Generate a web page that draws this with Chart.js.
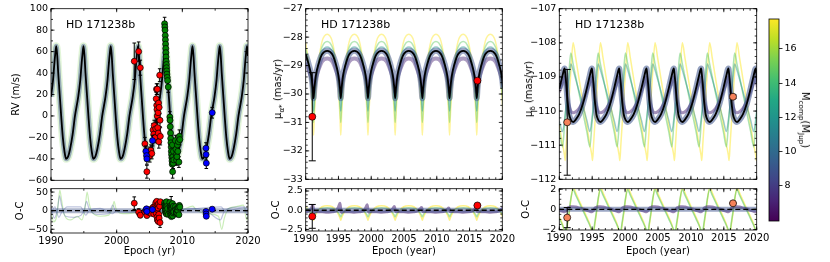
<!DOCTYPE html>
<html>
<head>
<meta charset="utf-8">
<title>HD 171238b orbit fit</title>
<script src="https://cdn.jsdelivr.net/npm/chart.js"></script>
<style>
  html, body { margin: 0; padding: 0; background: #fff; }
  #fig { position: relative; width: 830px; height: 262px; overflow: hidden;
         font-family: 'DejaVu Sans', sans-serif; color: #000; }
  #fig canvas { position: absolute; }
  .txt { position: absolute; white-space: nowrap; line-height: 1; }
  .up { transform: translate(-50%, -50%) rotate(-90deg); }
  .down { transform: translate(-50%, -50%) rotate(90deg); }
  .txt sub { font-size: 72%; vertical-align: -0.35em; line-height: 0; }
</style>
</head>
<body>
<div id="fig">
  <canvas id="rvTop" width="264" height="189" style="left:0;top:0"></canvas>
  <canvas id="rvOc" width="264" height="82" style="left:0;top:180px"></canvas>
  <canvas id="raTop" width="256" height="188" style="left:262px;top:0"></canvas>
  <canvas id="raOc" width="256" height="82" style="left:262px;top:180px"></canvas>
  <canvas id="decTop" width="256" height="188" style="left:516px;top:0"></canvas>
  <canvas id="decOc" width="256" height="82" style="left:516px;top:180px"></canvas>
  <canvas id="cbar" width="60" height="230" style="left:760px;top:0"></canvas>

  <div class="txt" style="left:66px;top:19px;font-size:11px">HD 171238b</div>
  <div class="txt" style="left:321px;top:19px;font-size:11px">HD 171238b</div>
  <div class="txt" style="left:575px;top:19px;font-size:11px">HD 171238b</div>
  <div class="txt up" style="left:278px;top:89px;font-size:10px">μ<sub>α*</sub> (mas/yr)</div>
  <div class="txt up" style="left:529px;top:89px;font-size:10px">μ<sub>δ</sub> (mas/yr)</div>
  <div class="txt down" style="left:805px;top:120px;font-size:10px">M<sub>comp</sub>(M<sub>Jup</sub>)</div>
</div>

<script>
// ---------- data ----------

// RV panel: best-fit orbit (epoch, m/s)
const rvModelT = [
  1990.0, 1990.3, 1990.5, 1990.65,
  1990.8, 1990.95, 1991.1, 1991.37, 1991.55, 1991.8, 1992.05, 1992.3, 1992.6, 1992.9, 1993.3, 1993.65, 1994.15, 1994.45, 1994.65, 1994.8,
  1994.95, 1995.1, 1995.25, 1995.52, 1995.7, 1995.95, 1996.2, 1996.45, 1996.75, 1997.05, 1997.45, 1997.8, 1998.3, 1998.6, 1998.8, 1998.95,
  1999.1, 1999.25, 1999.4, 1999.67, 1999.85, 2000.1, 2000.35, 2000.6, 2000.9, 2001.2, 2001.6, 2001.95, 2002.45, 2002.75, 2002.95, 2003.1,
  2003.25, 2003.4, 2003.55, 2003.82, 2004.0, 2004.25, 2004.5, 2004.75, 2005.05, 2005.35, 2005.75, 2006.1, 2006.6, 2006.9, 2007.1, 2007.25,
  2007.4, 2007.55, 2007.7, 2007.97, 2008.15, 2008.4, 2008.65, 2008.9, 2009.2, 2009.5, 2009.9, 2010.25, 2010.75, 2011.05, 2011.25, 2011.4,
  2011.55, 2011.7, 2011.85, 2012.12, 2012.3, 2012.55, 2012.8, 2013.05, 2013.35, 2013.65, 2014.05, 2014.4, 2014.9, 2015.2, 2015.4, 2015.55,
  2015.7, 2015.85, 2016.0, 2016.27, 2016.45, 2016.7, 2016.95, 2017.2, 2017.5, 2017.8, 2018.2, 2018.55, 2019.05, 2019.35, 2019.55, 2019.7,
  2019.85, 2020.0
];
const rvModelV = [
  18, 33, 48, 58,
  65, 56, 40, 16, 0, -20, -33, -40, -38, -31, -17, 0, 18, 33, 48, 58,
  65, 56, 40, 16, 0, -20, -33, -40, -38, -31, -17, 0, 18, 33, 48, 58,
  65, 56, 40, 16, 0, -20, -33, -40, -38, -31, -17, 0, 18, 33, 48, 58,
  65, 56, 40, 16, 0, -20, -33, -40, -38, -31, -17, 0, 18, 33, 48, 58,
  65, 56, 40, 16, 0, -20, -33, -40, -38, -31, -17, 0, 18, 33, 48, 58,
  65, 56, 40, 16, 0, -20, -33, -40, -38, -31, -17, 0, 18, 33, 48, 58,
  65, 56, 40, 16, 0, -20, -33, -40, -38, -31, -17, 0, 18, 33, 48, 58,
  65, 56
];

// RV measurements [epoch, RV, error]
const rvRed = [
  [2002.68, 51, 17], [2003.35, 60, 9], [2003.6, 45, 7], [2004.3, -26, 6], [2004.6, -52, 6],
  [2004.95, -34, 5], [2005.05, -37, 6], [2005.2, -32, 5], [2005.35, -35, 5], [2005.55, -13, 6],
  [2005.65, -17, 5], [2005.72, -9, 5], [2005.85, -20, 5], [2005.95, -12, 5], [2006.02, 16, 6],
  [2006.07, 25, 5], [2006.1, 10, 5], [2006.14, 6, 5], [2006.18, 0, 6], [2006.2, 25, 5],
  [2006.25, -11, 5], [2006.3, 3, 5], [2006.33, -16, 5], [2006.38, 12, 5], [2006.42, -24, 6],
  [2006.47, 8, 5], [2006.55, 38, 6], [2006.6, -4, 6], [2006.65, -19, 8]
];
const rvBlue = [
  [2004.45, -33, 5], [2004.55, -37, 5], [2004.6, -40, 5], [2005.45, -23, 5],
  [2013.6, -30, 5], [2013.62, -36, 5], [2013.65, -44, 5], [2014.55, 3, 5]
];
const rvGreen = [
  [2007.3, 86, 6], [2007.33, 83, 5], [2007.36, 80, 5], [2007.4, 75, 5], [2007.42, 71, 5], [2007.45, 67, 5],
  [2007.48, 63, 5], [2007.5, 59, 5], [2007.52, 55, 5], [2007.55, 51, 5], [2007.58, 48, 5], [2007.6, 45, 5],
  [2007.62, 42, 5], [2007.65, 39, 5], [2007.7, 36, 5], [2007.75, 33, 5], [2007.86, 27, 5],
  [2008.1, -1, 5], [2008.13, -4, 5], [2008.16, -10, 6], [2008.2, -16, 5], [2008.23, -21, 5], [2008.26, -25, 5],
  [2008.3, -29, 5], [2008.33, -33, 5], [2008.36, -36, 5], [2008.4, -39, 5], [2008.43, -42, 5], [2008.46, -45, 5],
  [2008.5, -27, 5], [2008.52, -52, 6], [2008.56, -38, 5], [2008.6, -44, 5], [2008.65, -33, 5], [2008.7, -41, 5],
  [2008.95, -23, 5], [2009.02, -31, 5], [2009.08, -36, 5], [2009.12, -41, 5], [2009.18, -38, 5], [2009.25, -27, 5],
  [2009.32, -33, 5], [2009.4, -24, 5], [2009.48, -43, 5], [2009.55, -19, 6], [2009.62, -22, 5]
];

// RV residuals [epoch, O-C, error]
const rvOcRed = [
  [2002.68, 20, 17], [2003.35, -4, 9], [2003.6, -12, 7], [2004.3, -3, 6], [2004.6, -13, 6],
  [2004.95, -5, 5], [2005.05, 1, 6], [2005.2, -7, 5], [2005.35, 5, 5], [2005.55, 9, 6],
  [2005.65, -9, 5], [2005.72, 3, 5], [2005.85, 13, 5], [2005.95, 21, 5], [2006.02, -7, 6],
  [2006.07, 9, 5], [2006.1, 25, 5], [2006.14, -17, 5], [2006.18, 3, 6], [2006.2, -25, 5],
  [2006.25, 15, 5], [2006.3, 7, 5], [2006.33, -29, 5], [2006.38, 18, 5], [2006.42, -10, 6],
  [2006.47, -20, 5], [2006.55, 12, 6], [2006.6, -32, 13], [2006.65, 24, 6]
];
const rvOcBlue = [
  [2004.45, 2, 5], [2004.55, 5, 5], [2004.6, -2, 5], [2005.45, 3, 5],
  [2013.6, -2, 5], [2013.62, -9, 5], [2013.65, -15, 5], [2014.55, 4, 5]
];
const rvOcGreen = [
  [2007.3, 21, 6], [2007.33, 15, 5], [2007.36, 9, 5], [2007.4, 4, 5], [2007.42, -3, 5], [2007.45, 8, 5],
  [2007.48, 14, 5], [2007.5, -6, 5], [2007.52, 2, 5], [2007.55, 18, 5], [2007.58, -9, 5], [2007.6, 24, 5],
  [2007.65, 11, 5], [2007.7, -4, 5], [2007.75, 6, 5], [2007.86, -10, 5],
  [2008.1, 22, 5], [2008.13, 12, 5], [2008.16, -5, 6], [2008.2, 7, 5], [2008.23, -12, 5], [2008.26, 2, 5],
  [2008.3, 10, 28], [2008.33, -16, 5], [2008.36, 4, 5], [2008.4, -8, 5], [2008.43, 16, 5], [2008.46, -2, 5],
  [2008.5, 19, 5], [2008.52, -14, 6], [2008.56, 6, 5], [2008.6, -6, 5], [2008.65, 12, 5], [2008.7, -3, 5],
  [2008.95, 11, 5], [2009.02, 3, 5], [2009.08, -4, 5], [2009.12, -9, 5], [2009.18, -6, 5], [2009.25, 6, 5],
  [2009.32, 0, 5], [2009.4, 9, 5], [2009.48, -11, 5], [2009.55, 14, 6], [2009.62, 10, 5]
];

// RV residual spread of other posterior orbits
const rvOcGreenT = [1990.0, 1990.4, 1990.8, 1991.1, 1991.35, 1991.6, 1992.0, 1993.0, 1994.0, 1994.7, 1995.2, 1995.5, 1995.8,
  1996.3, 1997.5, 1998.8, 1999.4, 1999.6, 1999.9, 2001.0, 2003.0, 2003.5, 2004.0, 2006.0, 2008.0, 2010.0, 2011.6,
  2012.1, 2014.0, 2015.5, 2016.0, 2016.4, 2017.0, 2018.0, 2019.3, 2019.8, 2020.0];
const rvOcGreenV = [-5, -30, -20, 20, 55, 30, -10, -25, -15, -25, 10, 50, 20,
  -5, -15, -12, 10, 25, 5, -8, -4, 6, 0, -3, 0, 3, 12,
  2, -8, -15, -50, -20, 5, 10, 15, -25, -10];
const rvOcBlueAT = [1990.0, 1990.5, 1991.0, 1991.3, 1991.6, 1992.2, 1993.5, 1994.6, 1995.1, 1995.4, 1995.8, 1997.0, 1998.8,
  1999.4, 1999.8, 2002.0, 2008.0, 2011.6, 2014.0, 2015.8, 2016.3, 2017.5, 2019.5, 2019.9, 2020.0];
const rvOcBlueAV = [10, -20, 5, 40, 15, -15, -18, -12, 5, 25, 5, -10, -8,
  15, 0, -4, 0, 6, -5, -25, -5, 8, 10, -15, -5];
const rvOcBlueBT = [1990.0, 1990.6, 1991.2, 1991.6, 1992.5, 1994.5, 1995.3, 1995.8, 1997.5, 1999.4, 2000.0, 2008.0,
  2015.9, 2016.5, 2019.8, 2020.0];
const rvOcBlueBV = [-8, 10, -18, -5, 10, 10, -12, 0, 6, -8, 0, 0, 10, 0, 8, 0];

// zero line of the residual panels
const ocZeroT = [1990, 2020];
const ocZeroV = [0, 0];

// proper motion in RA (mas/yr)
const raT = [
  1990.0, 1990.45, 1990.85, 1991.08,
  1991.2, 1991.32, 1991.55, 1991.95, 1992.5, 1993.28, 1994.05, 1994.6, 1995.0, 1995.23,
  1995.35, 1995.47, 1995.7, 1996.1, 1996.65, 1997.43, 1998.2, 1998.75, 1999.15, 1999.38,
  1999.5, 1999.62, 1999.85, 2000.25, 2000.8, 2001.58, 2002.35, 2002.9, 2003.3, 2003.53,
  2003.65, 2003.77, 2004.0, 2004.4, 2004.95, 2005.73, 2006.5, 2007.05, 2007.45, 2007.68,
  2007.8, 2007.92, 2008.15, 2008.55, 2009.1, 2009.88, 2010.65, 2011.2, 2011.6, 2011.83,
  2011.95, 2012.07, 2012.3, 2012.7, 2013.25, 2014.03, 2014.8, 2015.35, 2015.75, 2015.98,
  2016.1, 2016.22, 2016.45, 2016.85, 2017.4, 2018.18, 2018.95, 2019.5, 2019.9, 2020.13,
  2020.25
];
const raBest = [
  -28.6, -28.95, -29.35, -29.8,
  -30.15, -29.8, -29.35, -28.95, -28.6, -28.48, -28.6, -28.95, -29.35, -29.8,
  -30.15, -29.8, -29.35, -28.95, -28.6, -28.48, -28.6, -28.95, -29.35, -29.8,
  -30.15, -29.8, -29.35, -28.95, -28.6, -28.48, -28.6, -28.95, -29.35, -29.8,
  -30.15, -29.8, -29.35, -28.95, -28.6, -28.48, -28.6, -28.95, -29.35, -29.8,
  -30.15, -29.8, -29.35, -28.95, -28.6, -28.48, -28.6, -28.95, -29.35, -29.8,
  -30.15, -29.8, -29.35, -28.95, -28.6, -28.48, -28.6, -28.95, -29.35, -29.8,
  -30.15, -29.8, -29.35, -28.95, -28.6, -28.48, -28.6, -28.95, -29.35, -29.8,
  -30.15
];
const raHeavy = [
  -28.2, -28.9, -29.9, -30.8,
  -31.45, -30.8, -29.9, -28.9, -28.15, -27.9, -28.15, -28.9, -29.9, -30.8,
  -31.45, -30.8, -29.9, -28.9, -28.15, -27.9, -28.15, -28.9, -29.9, -30.8,
  -31.45, -30.8, -29.9, -28.9, -28.15, -27.9, -28.15, -28.9, -29.9, -30.8,
  -31.45, -30.8, -29.9, -28.9, -28.15, -27.9, -28.15, -28.9, -29.9, -30.8,
  -31.45, -30.8, -29.9, -28.9, -28.15, -27.9, -28.15, -28.9, -29.9, -30.8,
  -31.45, -30.8, -29.9, -28.9, -28.15, -27.9, -28.15, -28.9, -29.9, -30.8,
  -31.45, -30.8, -29.9, -28.9, -28.15, -27.9, -28.15, -28.9, -29.9, -30.8,
  -31.45
];
const raMid = [
  -28.4, -28.9, -29.7, -30.45,
  -31.0, -30.45, -29.7, -28.9, -28.35, -28.15, -28.35, -28.9, -29.7, -30.45,
  -31.0, -30.45, -29.7, -28.9, -28.35, -28.15, -28.35, -28.9, -29.7, -30.45,
  -31.0, -30.45, -29.7, -28.9, -28.35, -28.15, -28.35, -28.9, -29.7, -30.45,
  -31.0, -30.45, -29.7, -28.9, -28.35, -28.15, -28.35, -28.9, -29.7, -30.45,
  -31.0, -30.45, -29.7, -28.9, -28.35, -28.15, -28.35, -28.9, -29.7, -30.45,
  -31.0, -30.45, -29.7, -28.9, -28.35, -28.15, -28.35, -28.9, -29.7, -30.45,
  -31.0, -30.45, -29.7, -28.9, -28.35, -28.15, -28.35, -28.9, -29.7, -30.45,
  -31.0
];
const raTeal = [
  -28.55, -28.95, -29.55, -30.15,
  -30.6, -30.15, -29.55, -28.95, -28.5, -28.35, -28.5, -28.95, -29.55, -30.15,
  -30.6, -30.15, -29.55, -28.95, -28.5, -28.35, -28.5, -28.95, -29.55, -30.15,
  -30.6, -30.15, -29.55, -28.95, -28.5, -28.35, -28.5, -28.95, -29.55, -30.15,
  -30.6, -30.15, -29.55, -28.95, -28.5, -28.35, -28.5, -28.95, -29.55, -30.15,
  -30.6, -30.15, -29.55, -28.95, -28.5, -28.35, -28.5, -28.95, -29.55, -30.15,
  -30.6, -30.15, -29.55, -28.95, -28.5, -28.35, -28.5, -28.95, -29.55, -30.15,
  -30.6, -30.15, -29.55, -28.95, -28.5, -28.35, -28.5, -28.95, -29.55, -30.15,
  -30.6
];
const raLight = [
  -28.9, -29.15, -29.45, -29.75,
  -29.95, -29.75, -29.45, -29.15, -28.85, -28.75, -28.85, -29.15, -29.45, -29.75,
  -29.95, -29.75, -29.45, -29.15, -28.85, -28.75, -28.85, -29.15, -29.45, -29.75,
  -29.95, -29.75, -29.45, -29.15, -28.85, -28.75, -28.85, -29.15, -29.45, -29.75,
  -29.95, -29.75, -29.45, -29.15, -28.85, -28.75, -28.85, -29.15, -29.45, -29.75,
  -29.95, -29.75, -29.45, -29.15, -28.85, -28.75, -28.85, -29.15, -29.45, -29.75,
  -29.95, -29.75, -29.45, -29.15, -28.85, -28.75, -28.85, -29.15, -29.45, -29.75,
  -29.95, -29.75, -29.45, -29.15, -28.85, -28.75, -28.85, -29.15, -29.45, -29.75,
  -29.95
];
const raOcHeavy = [
  0.4, 0.05, -0.55, -1.0,
  -1.3, -1.0, -0.55, 0.05, 0.45, 0.58, 0.45, 0.05, -0.55, -1.0,
  -1.3, -1.0, -0.55, 0.05, 0.45, 0.58, 0.45, 0.05, -0.55, -1.0,
  -1.3, -1.0, -0.55, 0.05, 0.45, 0.58, 0.45, 0.05, -0.55, -1.0,
  -1.3, -1.0, -0.55, 0.05, 0.45, 0.58, 0.45, 0.05, -0.55, -1.0,
  -1.3, -1.0, -0.55, 0.05, 0.45, 0.58, 0.45, 0.05, -0.55, -1.0,
  -1.3, -1.0, -0.55, 0.05, 0.45, 0.58, 0.45, 0.05, -0.55, -1.0,
  -1.3, -1.0, -0.55, 0.05, 0.45, 0.58, 0.45, 0.05, -0.55, -1.0,
  -1.3
];
const raOcMid = [
  0.22, 0.05, -0.35, -0.65,
  -0.85, -0.65, -0.35, 0.05, 0.25, 0.33, 0.25, 0.05, -0.35, -0.65,
  -0.85, -0.65, -0.35, 0.05, 0.25, 0.33, 0.25, 0.05, -0.35, -0.65,
  -0.85, -0.65, -0.35, 0.05, 0.25, 0.33, 0.25, 0.05, -0.35, -0.65,
  -0.85, -0.65, -0.35, 0.05, 0.25, 0.33, 0.25, 0.05, -0.35, -0.65,
  -0.85, -0.65, -0.35, 0.05, 0.25, 0.33, 0.25, 0.05, -0.35, -0.65,
  -0.85, -0.65, -0.35, 0.05, 0.25, 0.33, 0.25, 0.05, -0.35, -0.65,
  -0.85, -0.65, -0.35, 0.05, 0.25, 0.33, 0.25, 0.05, -0.35, -0.65,
  -0.85
];
const raOcLight = [
  -0.2, -0.1, 0.25, 0.6,
  0.1, -0.3, -0.2, -0.2, -0.2, -0.27, -0.2, -0.1, 0.4, 0.9,
  0.1, -0.3, -0.2, -0.2, -0.2, -0.27, -0.2, -0.1, 0.3, 0.7,
  0.1, -0.25, -0.2, -0.2, -0.2, -0.25, -0.2, -0.1, 0.2, 0.5,
  0.05, -0.2, -0.15, -0.2, -0.2, -0.25, -0.2, -0.1, 0.15, 0.35,
  0.05, -0.2, -0.15, -0.2, -0.2, -0.25, -0.2, -0.1, 0.1, 0.3,
  0.05, -0.2, -0.15, -0.2, -0.2, -0.25, -0.2, -0.1, 0.1, 0.3,
  0.05, -0.2, -0.15, -0.2, -0.2, -0.25, -0.2, -0.1, 0.15, 0.35,
  0.05
];
const raObs = [[1991.0, -30.8, 1.55], [2016.2, -29.53, 0.05]];
const raOcObs = [[1991.0, -0.8, 1.55], [2016.2, 0.62, 0.05]];

// proper motion in Dec (mas/yr)
const decT = [
  1990.0, 1990.5,
  1990.8, 1990.9, 1991.05, 1991.25, 1991.5, 1991.75, 1992.1, 1992.5, 1993.0, 1993.6, 1994.2, 1994.65,
  1994.95, 1995.05, 1995.2, 1995.4, 1995.65, 1995.9, 1996.25, 1996.65, 1997.15, 1997.75, 1998.35, 1998.8,
  1999.1, 1999.2, 1999.35, 1999.55, 1999.8, 2000.05, 2000.4, 2000.8, 2001.3, 2001.9, 2002.5, 2002.95,
  2003.25, 2003.35, 2003.5, 2003.7, 2003.95, 2004.2, 2004.55, 2004.95, 2005.45, 2006.05, 2006.65, 2007.1,
  2007.4, 2007.5, 2007.65, 2007.85, 2008.1, 2008.35, 2008.7, 2009.1, 2009.6, 2010.2, 2010.8, 2011.25,
  2011.55, 2011.65, 2011.8, 2012.0, 2012.25, 2012.5, 2012.85, 2013.25, 2013.75, 2014.35, 2014.95, 2015.4,
  2015.7, 2015.8, 2015.95, 2016.15, 2016.4, 2016.65, 2017.0, 2017.4, 2017.9, 2018.5, 2019.1, 2019.55,
  2019.85, 2019.95, 2020.1
];
const decBest = [
  -109.35, -108.95,
  -108.75, -108.9, -109.2, -109.7, -110.1, -110.25, -110.32, -110.25, -110.1, -109.78, -109.32, -108.95,
  -108.75, -108.9, -109.2, -109.7, -110.1, -110.25, -110.32, -110.25, -110.1, -109.78, -109.32, -108.95,
  -108.75, -108.9, -109.2, -109.7, -110.1, -110.25, -110.32, -110.25, -110.1, -109.78, -109.32, -108.95,
  -108.75, -108.9, -109.2, -109.7, -110.1, -110.25, -110.32, -110.25, -110.1, -109.78, -109.32, -108.95,
  -108.75, -108.9, -109.2, -109.7, -110.1, -110.25, -110.32, -110.25, -110.1, -109.78, -109.32, -108.95,
  -108.75, -108.9, -109.2, -109.7, -110.1, -110.25, -110.32, -110.25, -110.1, -109.78, -109.32, -108.95,
  -108.75, -108.9, -109.2, -109.7, -110.1, -110.25, -110.32, -110.25, -110.1, -109.78, -109.32, -108.95,
  -108.75, -108.9, -109.2
];
const decHeavy = [
  -110.4, -110.98,
  -111.3, -111.45, -111.0, -110.4, -109.6, -108.85, -108.0, -108.45, -109.05, -109.75, -110.45, -110.98,
  -111.3, -111.45, -111.0, -110.4, -109.6, -108.85, -108.0, -108.45, -109.05, -109.75, -110.45, -110.98,
  -111.3, -111.45, -111.0, -110.4, -109.6, -108.85, -108.0, -108.45, -109.05, -109.75, -110.45, -110.98,
  -111.3, -111.45, -111.0, -110.4, -109.6, -108.85, -108.0, -108.45, -109.05, -109.75, -110.45, -110.98,
  -111.3, -111.45, -111.0, -110.4, -109.6, -108.85, -108.0, -108.45, -109.05, -109.75, -110.45, -110.98,
  -111.3, -111.45, -111.0, -110.4, -109.6, -108.85, -108.0, -108.45, -109.05, -109.75, -110.45, -110.98,
  -111.3, -111.45, -111.0, -110.4, -109.6, -108.85, -108.0, -108.45, -109.05, -109.75, -110.45, -110.98,
  -111.3, -111.45, -111.0
];
const decMid = [
  -110.6, -111.05,
  -110.4, -110.17, -109.82, -109.35, -108.77, -108.3, -108.62, -109.0, -109.48, -110.05, -110.62, -111.05,
  -110.4, -110.17, -109.82, -109.35, -108.77, -108.3, -108.62, -109.0, -109.48, -110.05, -110.62, -111.05,
  -110.4, -110.17, -109.82, -109.35, -108.77, -108.3, -108.62, -109.0, -109.48, -110.05, -110.62, -111.05,
  -110.4, -110.17, -109.82, -109.35, -108.77, -108.3, -108.62, -109.0, -109.48, -110.05, -110.62, -111.05,
  -110.4, -110.17, -109.82, -109.35, -108.77, -108.3, -108.62, -109.0, -109.48, -110.05, -110.62, -111.05,
  -110.4, -110.17, -109.82, -109.35, -108.77, -108.3, -108.62, -109.0, -109.48, -110.05, -110.62, -111.05,
  -110.4, -110.17, -109.82, -109.35, -108.77, -108.3, -108.62, -109.0, -109.48, -110.05, -110.62, -111.05,
  -110.4, -110.17, -109.82
];
const decTeal = [
  -110.3, -110.6,
  -110.25, -110.08, -109.82, -109.48, -109.05, -108.62, -108.8, -109.07, -109.42, -109.85, -110.28, -110.6,
  -110.25, -110.08, -109.82, -109.48, -109.05, -108.62, -108.8, -109.07, -109.42, -109.85, -110.28, -110.6,
  -110.25, -110.08, -109.82, -109.48, -109.05, -108.62, -108.8, -109.07, -109.42, -109.85, -110.28, -110.6,
  -110.25, -110.08, -109.82, -109.48, -109.05, -108.62, -108.8, -109.07, -109.42, -109.85, -110.28, -110.6,
  -110.25, -110.08, -109.82, -109.48, -109.05, -108.62, -108.8, -109.07, -109.42, -109.85, -110.28, -110.6,
  -110.25, -110.08, -109.82, -109.48, -109.05, -108.62, -108.8, -109.07, -109.42, -109.85, -110.28, -110.6,
  -110.25, -110.08, -109.82, -109.48, -109.05, -108.62, -108.8, -109.07, -109.42, -109.85, -110.28, -110.6,
  -110.25, -110.08, -109.82
];
const decLight = [
  -109.45, -109.15,
  -109.0, -109.1, -109.3, -109.6, -109.85, -110.0, -110.05, -110.02, -109.92, -109.72, -109.42, -109.15,
  -109.0, -109.1, -109.3, -109.6, -109.85, -110.0, -110.05, -110.02, -109.92, -109.72, -109.42, -109.15,
  -109.0, -109.1, -109.3, -109.6, -109.85, -110.0, -110.05, -110.02, -109.92, -109.72, -109.42, -109.15,
  -109.0, -109.1, -109.3, -109.6, -109.85, -110.0, -110.05, -110.02, -109.92, -109.72, -109.42, -109.15,
  -109.0, -109.1, -109.3, -109.6, -109.85, -110.0, -110.05, -110.02, -109.92, -109.72, -109.42, -109.15,
  -109.0, -109.1, -109.3, -109.6, -109.85, -110.0, -110.05, -110.02, -109.92, -109.72, -109.42, -109.15,
  -109.0, -109.1, -109.3, -109.6, -109.85, -110.0, -110.05, -110.02, -109.92, -109.72, -109.42, -109.15,
  -109.0, -109.1, -109.3
];
const decOcHeavy = [
  -0.75, -1.5,
  -2.35, -2.6, -2.4, -1.5, -0.4, 0.9, 2.2, 1.65, 0.9, 0.05, -0.8, -1.5,
  -2.35, -2.6, -2.4, -1.5, -0.4, 0.9, 2.2, 1.65, 0.9, 0.05, -0.8, -1.5,
  -2.35, -2.6, -2.4, -1.5, -0.4, 0.9, 2.2, 1.65, 0.9, 0.05, -0.8, -1.5,
  -2.35, -2.6, -2.4, -1.5, -0.4, 0.9, 2.2, 1.65, 0.9, 0.05, -0.8, -1.5,
  -2.35, -2.6, -2.4, -1.5, -0.4, 0.9, 2.2, 1.65, 0.9, 0.05, -0.8, -1.5,
  -2.35, -2.6, -2.4, -1.5, -0.4, 0.9, 2.2, 1.65, 0.9, 0.05, -0.8, -1.5,
  -2.35, -2.6, -2.4, -1.5, -0.4, 0.9, 2.2, 1.65, 0.9, 0.05, -0.8, -1.5,
  -2.35, -2.6, -2.4
];
const decOcMid = [
  -0.9, -1.6,
  -2.05, -2.25, -2.15, -1.3, -0.2, 1.05, 1.95, 1.4, 0.7, -0.13, -0.97, -1.6,
  -2.05, -2.25, -2.15, -1.3, -0.2, 1.05, 1.95, 1.4, 0.7, -0.13, -0.97, -1.6,
  -2.05, -2.25, -2.15, -1.3, -0.2, 1.05, 1.95, 1.4, 0.7, -0.13, -0.97, -1.6,
  -2.05, -2.25, -2.15, -1.3, -0.2, 1.05, 1.95, 1.4, 0.7, -0.13, -0.97, -1.6,
  -2.05, -2.25, -2.15, -1.3, -0.2, 1.05, 1.95, 1.4, 0.7, -0.13, -0.97, -1.6,
  -2.05, -2.25, -2.15, -1.3, -0.2, 1.05, 1.95, 1.4, 0.7, -0.13, -0.97, -1.6,
  -2.05, -2.25, -2.15, -1.3, -0.2, 1.05, 1.95, 1.4, 0.7, -0.13, -0.97, -1.6,
  -2.05, -2.25, -2.15
];
const decOcLight = [
  -0.12, -0.2,
  -0.25, -0.2, -0.1, 0.1, 0.2, 0.25, 0.27, 0.23, 0.15, 0.05, -0.1, -0.2,
  -0.25, -0.2, -0.1, 0.1, 0.2, 0.25, 0.27, 0.23, 0.15, 0.05, -0.1, -0.2,
  -0.25, -0.2, -0.1, 0.1, 0.2, 0.25, 0.27, 0.23, 0.15, 0.05, -0.1, -0.2,
  -0.25, -0.2, -0.1, 0.1, 0.2, 0.25, 0.27, 0.23, 0.15, 0.05, -0.1, -0.2,
  -0.25, -0.2, -0.1, 0.1, 0.2, 0.25, 0.27, 0.23, 0.15, 0.05, -0.1, -0.2,
  -0.25, -0.2, -0.1, 0.1, 0.2, 0.25, 0.27, 0.23, 0.15, 0.05, -0.1, -0.2,
  -0.25, -0.2, -0.1, 0.1, 0.2, 0.25, 0.27, 0.23, 0.15, 0.05, -0.1, -0.2,
  -0.25, -0.2, -0.1
];
const decObs = [[1991.2, -110.33, 1.55], [2016.4, -109.58, 0.05]];
const decOcObs = [[1991.2, -0.82, 1.0], [2016.4, 0.6, 0.05]];

// axis ticks
const rvYears = [1990, 2000, 2010, 2020];
const pmYears = [1990, 1995, 2000, 2005, 2010, 2015, 2020];
const rvTicks = [-60, -40, -20, 0, 20, 40, 60, 80, 100];
const rvOcTicks = [-50, 0, 50];
const raTicks = [-33, -32, -31, -30, -29, -28, -27];
const raOcTicks = [-2.5, 0, 2.5];
const decTicks = [-112, -111, -110, -109, -108, -107];
const decOcTicks = [-2, 0, 2];
const massTicks = [8, 10, 12, 14, 16];
const massRange = [5.95, 17.75];

// ---------- drawing ----------
const fontFam = "'DejaVu Sans', sans-serif";
const viridis = ['#440154', '#482475', '#414487', '#355f8d', '#2a788e', '#21918c',
                 '#22a884', '#44bf70', '#7ad151', '#bddf26', '#fde725'];

function fmt(v, d) {
  return (d ? v.toFixed(d) : String(Math.round(v))).replace('-', '\u2212');
}

function minorVals(min, max, step) {
  const out = [];
  if (!step) return out;
  for (let k = Math.ceil(min / step - 1e-6); k * step <= max + 1e-6; k++) out.push(k * step);
  return out;
}

// error bars drawn just under their own markers
const errorBars = {
  id: 'errorBars',
  beforeDatasetDraw(chart, args) {
    const ds = chart.data.datasets[args.index];
    if (!ds.errors) return;
    const {ctx, chartArea: a, scales: {x, y}} = chart;
    ctx.save();
    ctx.beginPath();
    ctx.rect(a.left, a.top, a.right - a.left, a.bottom - a.top);
    ctx.clip();
    ctx.strokeStyle = '#000';
    ctx.lineWidth = 1;
    ctx.beginPath();
    ds.data.forEach((p, i) => {
      const e = ds.errors[i];
      const px = x.getPixelForValue(p.x);
      const y1 = y.getPixelForValue(p.y - e), y2 = y.getPixelForValue(p.y + e);
      const c = ds.capWidth;
      ctx.moveTo(px, y1); ctx.lineTo(px, y2);
      ctx.moveTo(px - c, y1); ctx.lineTo(px + c, y1);
      ctx.moveTo(px - c, y2); ctx.lineTo(px + c, y2);
    });
    ctx.stroke();
    ctx.restore();
  }
};

// matplotlib-like frame with inward ticks on all sides
const frameTicks = {
  id: 'frameTicks',
  defaults: {},
  afterDraw(chart, args, opts) {
    const {ctx, chartArea: a} = chart;
    ctx.save();
    ctx.strokeStyle = '#000';
    ctx.lineWidth = 0.8;
    ctx.strokeRect(a.left, a.top, a.right - a.left, a.bottom - a.top);
    if (!opts.frameOnly) {
      const x = chart.scales.x, y = chart.scales.y;
      ctx.beginPath();
      const xt = (v, len) => {
        const p = x.getPixelForValue(v);
        if (p < a.left - 0.5 || p > a.right + 0.5) return;
        ctx.moveTo(p, a.bottom); ctx.lineTo(p, a.bottom - len);
        ctx.moveTo(p, a.top); ctx.lineTo(p, a.top + len);
      };
      const yt = (v, len) => {
        const p = y.getPixelForValue(v);
        if (p < a.top - 0.5 || p > a.bottom + 0.5) return;
        ctx.moveTo(a.left, p); ctx.lineTo(a.left + len, p);
        ctx.moveTo(a.right, p); ctx.lineTo(a.right - len, p);
      };
      x.ticks.forEach(t => xt(t.value, 3.5));
      y.ticks.forEach(t => yt(t.value, 3.5));
      minorVals(x.min, x.max, opts.xMinor).forEach(v => xt(v, 2));
      minorVals(y.min, y.max, opts.yMinor).forEach(v => yt(v, 2));
      ctx.stroke();
    }
    ctx.restore();
  }
};

Chart.register(errorBars, frameTicks);

function pts(rows) { return rows.map(r => ({x: r[0], y: r[1]})); }

function obs(rows, color, radius, cap) {
  return {
    data: pts(rows), errors: rows.map(r => r[2]), capWidth: cap, showLine: false,
    pointRadius: radius, pointBackgroundColor: color, pointBorderColor: '#000', pointBorderWidth: 0.7
  };
}

function curve(ts, vs, color, width, dash) {
  return {
    data: ts.map((t, i) => ({x: t, y: vs[i]})), borderColor: color, borderWidth: width,
    borderDash: dash || [], pointRadius: 0, cubicInterpolationMode: 'monotone', clip: 0
  };
}

function panel(id, o) {
  const titleFont = {family: fontFam, size: 10};
  return new Chart(document.getElementById(id), {
    type: 'line',
    data: {datasets: o.datasets},
    options: {
      animation: false, responsive: false, devicePixelRatio: 1, events: [],
      layout: {padding: o.pad},
      plugins: {
        legend: {display: false}, tooltip: {enabled: false},
        frameTicks: {xMinor: o.xMinor, yMinor: o.yMinor}
      },
      scales: {
        x: {
          type: 'linear', min: o.xMin, max: o.xMax,
          afterBuildTicks: s => { s.ticks = o.xTicks.map(v => ({value: v})); },
          afterFit: s => { s.height = o.xh; },
          grid: {display: false, drawTicks: false}, border: {display: false},
          ticks: {display: !!o.xTitle, font: {family: fontFam, size: 10}, color: '#000', padding: 2,
                  maxRotation: 0, autoSkip: false, callback: v => fmt(v, 0)},
          title: {display: !!o.xTitle, text: o.xTitle || '', font: titleFont, color: '#000',
                  padding: {top: 0, bottom: 5}}
        },
        y: {
          type: 'linear', min: o.yMin, max: o.yMax,
          afterBuildTicks: s => { s.ticks = o.yTicks.map(v => ({value: v})); },
          afterFit: s => { s.width = o.yw; },
          grid: {display: false, drawTicks: false}, border: {display: false},
          ticks: {font: {family: fontFam, size: 9.5}, color: '#000', padding: 3,
                  autoSkip: false, callback: v => fmt(v, o.yDec || 0)},
          title: {display: !!o.yTitle, text: o.yTitle || '', font: titleFont, color: '#000',
                  padding: {top: o.yTitlePad || 0, bottom: 0}}
        }
      }
    }
  });
}

// ----- RV -----
panel('rvTop', {
  pad: {left: 2, top: 8, right: 16, bottom: 8}, yw: 49, xh: 0,
  xMin: 1990, xMax: 2020, xTicks: rvYears, xMinor: 5,
  yMin: -60, yMax: 100, yTicks: rvTicks, yMinor: 10, yTitle: 'RV (m/s)', yTitlePad: 8,
  datasets: [
    obs(rvGreen, '#008000', 3, 1.8),
    obs(rvBlue, '#0000ff', 3, 1.8),
    obs(rvRed, '#ff0000', 3, 1.8),
    curve(rvModelT, rvModelV, '#000', 1.8),
    curve(rvModelT, rvModelV, 'rgba(59,82,139,0.45)', 5),
    curve(rvModelT, rvModelV, 'rgba(122,209,81,0.22)', 8)
  ]
});

panel('rvOc', {
  pad: {left: 2, top: 8, right: 16, bottom: 0}, yw: 49, xh: 29,
  xMin: 1990, xMax: 2020, xTicks: rvYears, xMinor: 5, xTitle: 'Epoch (yr)',
  yMin: -60, yMax: 59, yTicks: rvOcTicks, yMinor: 10, yTitle: 'O-C', yTitlePad: 12,
  datasets: [
    obs(rvOcGreen, '#008000', 3, 1.8),
    obs(rvOcBlue, '#0000ff', 3, 1.8),
    obs(rvOcRed, '#ff0000', 3, 1.8),
    curve(ocZeroT, ocZeroV, '#000', 1.3, [5, 3]),
    curve(ocZeroT, ocZeroV, 'rgba(70,90,140,0.45)', 5),
    curve(rvOcBlueBT, rvOcBlueBV, 'rgba(72,90,160,0.35)', 1.2),
    curve(rvOcBlueAT, rvOcBlueAV, 'rgba(72,90,160,0.35)', 1.2),
    curve(rvOcGreenT, rvOcGreenV, 'rgba(122,209,81,0.4)', 1.2)
  ]
});

// ----- RA proper motion -----
panel('raTop', {
  pad: {left: 2, top: 8, right: 15.7, bottom: 8}, yw: 41.7, xh: 0,
  xMin: 1990, xMax: 2020, xTicks: pmYears, xMinor: 1,
  yMin: -33, yMax: -27, yTicks: raTicks, yMinor: 0.2,
  datasets: [
    obs(raObs, '#ff0000', 3.5, 3.5),
    curve(raT, raBest, '#000', 1.8),
    curve(raT, raBest, 'rgba(59,82,139,0.5)', 6),
    curve(raT, raLight, 'rgba(72,36,117,0.45)', 4),
    curve(raT, raTeal, 'rgba(33,145,140,0.45)', 1.5),
    curve(raT, raMid, 'rgba(94,201,98,0.45)', 1.5),
    curve(raT, raHeavy, 'rgba(253,231,37,0.45)', 1.5)
  ]
});

panel('raOc', {
  pad: {left: 2, top: 7, right: 15.7, bottom: 0}, yw: 41.7, xh: 31,
  xMin: 1990, xMax: 2020, xTicks: pmYears, xMinor: 1, xTitle: 'Epoch (year)',
  yMin: -2.7, yMax: 2.8, yTicks: raOcTicks, yMinor: 0.5, yDec: 1, yTitle: 'O-C', yTitlePad: 6,
  datasets: [
    obs(raOcObs, '#ff0000', 3.5, 3.5),
    curve(ocZeroT, ocZeroV, '#000', 1.3, [5, 3]),
    curve(ocZeroT, ocZeroV, 'rgba(59,82,139,0.5)', 5),
    curve(raT, raOcLight, 'rgba(72,36,117,0.55)', 3),
    curve(raT, raOcMid, 'rgba(94,201,98,0.5)', 1.5),
    curve(raT, raOcHeavy, 'rgba(253,231,37,0.55)', 1.5)
  ]
});

// ----- Dec proper motion -----
panel('decTop', {
  pad: {left: 2, top: 8, right: 15.3, bottom: 8}, yw: 41.3, xh: 0,
  xMin: 1990, xMax: 2020, xTicks: pmYears, xMinor: 1,
  yMin: -112, yMax: -107, yTicks: decTicks, yMinor: 0.2,
  datasets: [
    obs(decObs, '#f5825a', 3.5, 3.5),
    curve(decT, decBest, '#000', 1.8),
    curve(decT, decBest, 'rgba(59,82,139,0.55)', 6),
    curve(decT, decLight, 'rgba(72,36,117,0.5)', 3),
    curve(decT, decTeal, 'rgba(33,145,140,0.45)', 1.5),
    curve(decT, decMid, 'rgba(94,201,98,0.5)', 1.5),
    curve(decT, decHeavy, 'rgba(253,231,37,0.5)', 1.5)
  ]
});

panel('decOc', {
  pad: {left: 2, top: 7, right: 15.3, bottom: 0}, yw: 41.3, xh: 32,
  xMin: 1990, xMax: 2020, xTicks: pmYears, xMinor: 1, xTitle: 'Epoch (year)',
  yMin: -2.05, yMax: 2.05, yTicks: decOcTicks, yMinor: 0.5, yTitle: 'O-C', yTitlePad: 2,
  datasets: [
    obs(decOcObs, '#f5825a', 3.5, 3.5),
    curve(ocZeroT, ocZeroV, '#000', 1.3, [5, 3]),
    curve(ocZeroT, ocZeroV, 'rgba(59,82,139,0.5)', 5),
    curve(decT, decOcLight, 'rgba(72,36,117,0.55)', 3),
    curve(decT, decOcMid, 'rgba(94,201,98,0.6)', 1.5),
    curve(decT, decOcHeavy, 'rgba(253,231,37,0.55)', 1.5)
  ]
});

// ----- colour bar -----
new Chart(document.getElementById('cbar'), {
  type: 'bar',
  data: {
    labels: [''],
    datasets: [{
      data: [massRange],
      barPercentage: 1, categoryPercentage: 1, borderWidth: 0,
      backgroundColor: c => {
        const a = c.chart.chartArea;
        if (!a) return viridis[5];
        const g = c.chart.ctx.createLinearGradient(0, a.bottom, 0, a.top);
        viridis.forEach((col, i) => g.addColorStop(i / (viridis.length - 1), col));
        return g;
      }
    }]
  },
  options: {
    animation: false, responsive: false, devicePixelRatio: 1, events: [],
    layout: {padding: {left: 9, top: 19, right: 6, bottom: 9}},
    plugins: {legend: {display: false}, tooltip: {enabled: false}, frameTicks: {frameOnly: true}},
    scales: {
      x: {display: false},
      y: {
        position: 'right', min: massRange[0], max: massRange[1],
        afterBuildTicks: s => { s.ticks = massTicks.map(v => ({value: v})); },
        afterFit: s => { s.width = 35; },
        grid: {drawOnChartArea: false, drawTicks: true, tickLength: 3.5, color: '#000', lineWidth: 0.8},
        border: {display: false},
        ticks: {font: {family: fontFam, size: 9.5}, color: '#000', padding: 2, callback: v => fmt(v, 0)}
      }
    }
  }
});
</script>
</body>
</html>
